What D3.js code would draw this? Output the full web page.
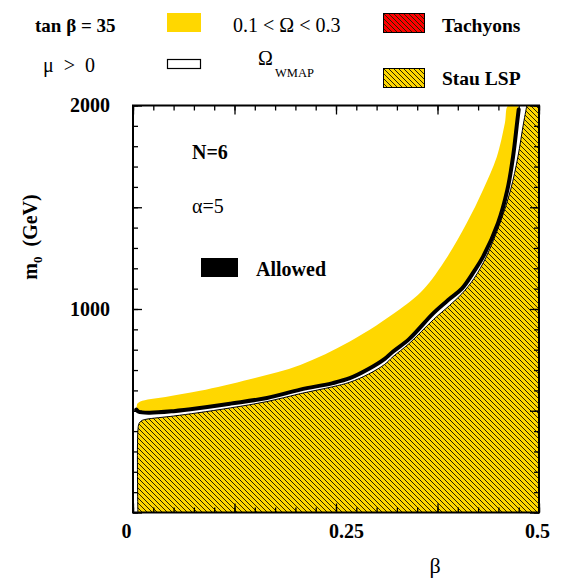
<!DOCTYPE html>
<head>
<meta charset="utf-8">
<style>
body { margin: 0; background: #fff; }
svg { font-family: "Liberation Serif", "Times New Roman", serif; }
.bold { font-weight: bold; }
</style>
</head>
<body>
<script src="https://cdnjs.cloudflare.com/ajax/libs/d3/7.8.5/d3.min.js"></script>
<script>

// m0 (GeV) against beta, tan beta = 35, N=6, alpha=5
var xTickLabels = [0, 0.25, 0.5];
var yTickLabels = [1000, 2000];

// upper edge of the stau LSP (hatched) region
var stauEdge = [
  [0.006, 0], [0.006, 400], [0.0075, 438], [0.011, 452], [0.016, 458], [0.05, 474],
  [0.08, 490], [0.12, 514], [0.165, 545], [0.206, 584], [0.246, 618], [0.267, 640],
  [0.29, 680], [0.31, 728], [0.32, 765], [0.34, 830], [0.37, 948], [0.39, 1018],
  [0.405, 1075], [0.42, 1150], [0.435, 1256], [0.452, 1422], [0.465, 1585],
  [0.474, 1747], [0.481, 1914], [0.485, 2000]
];

// 0.1 < Omega < 0.3 band, upper edge
var omegaTop = [
  [0.005, 533], [0.009, 546], [0.04, 568], [0.0825, 598], [0.144, 655], [0.206, 725],
  [0.267, 840], [0.329, 1000], [0.357, 1093], [0.387, 1256], [0.411, 1422],
  [0.431, 1585], [0.448, 1747], [0.458, 1914], [0.462, 2000], [0.474, 2000]
];

// allowed (WMAP) strip, black line = lower edge of the band
var allowed = [
  [0.004, 506], [0.007, 495], [0.02, 490], [0.05, 498], [0.08, 512], [0.12, 535],
  [0.165, 563], [0.206, 604], [0.246, 636], [0.267, 660], [0.29, 705], [0.31, 755],
  [0.32, 790], [0.34, 852], [0.37, 980], [0.39, 1050], [0.405, 1100], [0.42, 1185],
  [0.431, 1256], [0.4495, 1422], [0.461, 1585], [0.468, 1747], [0.473, 1914],
  [0.475, 1980]
];

var width = 571, height = 579;
var yellow = "#ffd700";

var x = d3.scaleLinear().domain([0, 0.5]).range([133, 539]);
var y = d3.scaleLinear().domain([0, 2000]).range([512.5, 105.5]);

var svg = d3.select("body").append("svg")
    .attr("width", width)
    .attr("height", height);

var defs = svg.append("defs");
function hatch(id, bg) {
  var p = defs.append("pattern")
      .attr("id", id)
      .attr("patternUnits", "userSpaceOnUse")
      .attr("width", 5).attr("height", 5);
  p.append("rect").attr("width", 5).attr("height", 5).attr("fill", bg);
  p.append("path")
      .attr("d", "M-1,-1L6,6M-1,4L1,6M4,-1L6,1")
      .attr("stroke", "#2a2200")
      .attr("stroke-width", 1);
}
hatch("stau", yellow);
hatch("tach", "#ff0000");

var line = d3.line()
    .x(function(d) { return x(d[0]); })
    .y(function(d) { return y(d[1]); })
    .curve(d3.curveCatmullRom.alpha(0.5));

var plot = svg.append("g");

// stau LSP region
plot.append("path")
    .attr("d", line(stauEdge) + "L" + x(0.5) + "," + y(2000) + "L" + x(0.5) + "," + y(0) + "Z")
    .attr("fill", "url(#stau)")
    .attr("stroke", "#000")
    .attr("stroke-width", 1);

// omega band
var back = allowed.slice().reverse();
plot.append("path")
    .attr("d", line(omegaTop) + line(back).replace(/^M/, "L") + "Z")
    .attr("fill", yellow);

// allowed strip
plot.append("path")
    .attr("d", line(allowed))
    .attr("fill", "none")
    .attr("stroke", "#000")
    .attr("stroke-width", 4)
    .attr("stroke-linecap", "round");

// ticks on all four sides, pointing inward
function ticks(axis, scale, values, size, transform) {
  svg.append("g")
      .attr("transform", transform)
      .call(axis(scale).tickValues(values).tickSize(size).tickFormat(""))
      .call(function(g) { g.select(".domain").remove(); })
      .selectAll("line").attr("stroke", "#000").attr("stroke-width", 1.3);
}
var xMinor = d3.range(0, 0.5001, 0.025), xMajor = d3.range(0, 0.5001, 0.125);
var yMinor = d3.range(0, 2001, 100), yMajor = d3.range(0, 2001, 500);
ticks(d3.axisBottom, x, xMinor, -5, "translate(0,512.5)");
ticks(d3.axisBottom, x, xMajor, -9, "translate(0,512.5)");
ticks(d3.axisTop, x, xMinor, -5, "translate(0,105.5)");
ticks(d3.axisTop, x, xMajor, -9, "translate(0,105.5)");
ticks(d3.axisLeft, y, yMinor, -5, "translate(133,0)");
ticks(d3.axisLeft, y, yMajor, -9, "translate(133,0)");
ticks(d3.axisRight, y, yMinor, -5, "translate(539,0)");
ticks(d3.axisRight, y, yMajor, -9, "translate(539,0)");

svg.append("rect")
    .attr("x", 133).attr("y", 105.5)
    .attr("width", 406).attr("height", 407)
    .attr("fill", "none")
    .attr("stroke", "#000")
    .attr("stroke-width", 2);

// tick labels
var xShift = { "0": -7, "0.25": 10, "0.5": -2 };
var xl = svg.append("g")
    .attr("transform", "translate(0,512.5)")
    .call(d3.axisBottom(x).tickValues(xTickLabels).tickSize(0).tickPadding(11)
      .tickFormat(function(d) { return String(d); }));
xl.select(".domain").remove();
xl.selectAll("text").attr("class", "bold").attr("font-size", 20)
    .attr("font-family", "Liberation Serif").attr("fill", "#000")
    .attr("dx", function(d) { return xShift[String(d)]; });

var yl = svg.append("g")
    .attr("transform", "translate(133,0)")
    .call(d3.axisLeft(y).tickValues(yTickLabels).tickSize(0).tickPadding(23)
      .tickFormat(d3.format("d")));
yl.select(".domain").remove();
yl.selectAll("text").attr("class", "bold").attr("font-size", 20)
    .attr("font-family", "Liberation Serif").attr("fill", "#000");

// axis titles
svg.append("text")
    .attr("x", 435).attr("y", 573)
    .attr("text-anchor", "middle")
    .attr("font-size", 22)
    .text("β");

var yt = svg.append("text")
    .attr("class", "bold")
    .attr("transform", "translate(37,237) rotate(-90)")
    .attr("text-anchor", "middle")
    .attr("font-size", 20);
yt.append("tspan").text("m");
yt.append("tspan").attr("font-size", 13).attr("dy", 5).text("0");
yt.append("tspan").attr("dy", -5).text("\u00a0\u00a0(GeV)");

// legend
function txt(t, px, py, bold, size) {
  return svg.append("text")
      .attr("x", px).attr("y", py)
      .attr("class", bold ? "bold" : null)
      .attr("font-size", size || 19)
      .text(t);
}
txt("tan β = 35", 35, 32, true);
svg.append("rect").attr("x", 167).attr("y", 13).attr("width", 34).attr("height", 19).attr("fill", yellow);
txt("0.1 < Ω < 0.3", 233, 32, false, 20);
svg.append("rect").attr("x", 383.5).attr("y", 13.5).attr("width", 41).attr("height", 19)
    .attr("fill", "url(#tach)").attr("stroke", "#000").attr("stroke-width", 1);
txt("Tachyons", 442, 32, true, 19.5);

txt("μ\u00a0\u00a0>\u00a0\u00a00", 43, 72, false, 20);
svg.append("rect").attr("x", 167.5).attr("y", 59.5).attr("width", 33).attr("height", 9)
    .attr("fill", "#fff").attr("stroke", "#000").attr("stroke-width", 1.2);
txt("Ω", 258, 65, false, 20);
txt("WMAP", 275, 77, false, 12.5);
svg.append("rect").attr("x", 383.5).attr("y", 68.5).attr("width", 41).attr("height", 19)
    .attr("fill", "url(#stau)").attr("stroke", "#000").attr("stroke-width", 1);
txt("Stau LSP", 442, 85, true, 19.5);

// labels in the plot
txt("N=6", 192, 159, true, 20);
txt("α=5", 192, 213, false, 20);
svg.append("rect").attr("x", 201).attr("y", 258).attr("width", 37).attr("height", 19).attr("fill", "#000");
txt("Allowed", 256, 276, true, 20);

</script>
</body>
</html>
